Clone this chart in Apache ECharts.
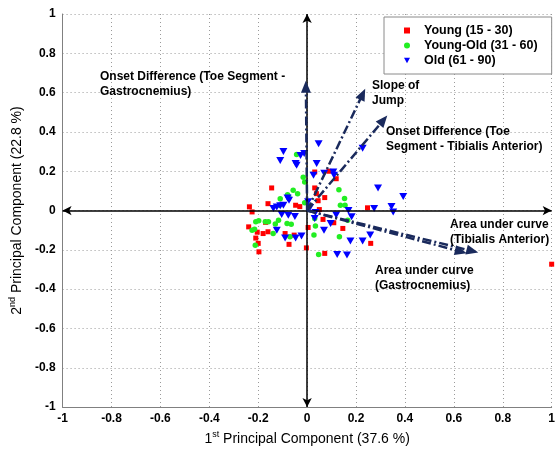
<!DOCTYPE html>
<html><head><meta charset="utf-8">
<script src="https://cdn.jsdelivr.net/npm/echarts@6/dist/echarts.min.js"></script>
<style>html,body{margin:0;padding:0;background:#fff}#c{width:558px;height:451px}</style>
</head><body><div id="c"></div>
<script>
const young = [[0.031,0.196],[0.089,0.20],[0.119,0.162],[0.031,0.115],[0.038,0.086],[0.072,0.066],[0.045,0.05],[0.05,0.005],[-0.145,0.115],[-0.16,0.035],[-0.236,0.019],[-0.225,-0.007],[-0.047,0.027],[-0.03,0.02],[0.247,0.014],[0.065,-0.045],[0.109,-0.062],[0.146,-0.091],[0.26,-0.167],[0.072,-0.218],[-0.003,-0.19],[0.004,-0.086],[-0.239,-0.083],[-0.204,-0.11],[-0.18,-0.117],[-0.16,-0.108],[-0.21,-0.14],[-0.2,-0.167],[-0.197,-0.21],[-0.09,-0.117],[-0.074,-0.172],[-0.053,-0.125],[-0.17,-0.06],[1.0,-0.273]];
const youngOld = [[-0.043,0.285],[-0.016,0.17],[-0.01,0.145],[-0.057,0.103],[-0.039,0.086],[-0.08,0.08],[-0.075,0.07],[-0.11,0.06],[-0.113,0.027],[-0.01,0.04],[0.13,0.106],[0.153,0.061],[0.136,0.027],[0.155,0.027],[0.166,-0.049],[0.031,-0.04],[0.034,-0.078],[0.028,-0.125],[0.132,-0.133],[0.047,-0.223],[-0.21,-0.057],[-0.198,-0.052],[-0.225,-0.1],[-0.215,-0.095],[-0.171,-0.057],[-0.158,-0.057],[-0.13,-0.069],[-0.117,-0.049],[-0.082,-0.066],[-0.065,-0.07],[-0.139,-0.117],[-0.07,-0.133],[-0.212,-0.176]];
const old = [[-0.097,0.30],[-0.11,0.255],[-0.047,0.24],[-0.043,0.23],[-0.027,0.28],[-0.012,0.29],[0.047,0.34],[0.039,0.24],[0.026,0.18],[0.07,0.19],[0.107,0.196],[0.11,0.18],[0.227,0.317],[0.29,0.115],[0.393,0.072],[0.274,0.01],[0.345,0.02],[0.352,-0.007],[0.169,0.0],[0.182,-0.032],[0.119,-0.023],[0.031,-0.04],[0.096,-0.066],[0.069,-0.1],[0.177,-0.155],[0.227,-0.155],[0.258,-0.125],[0.123,-0.223],[0.163,-0.226],[0.034,-0.01],[0.004,0.045],[0.012,0.015],[-0.08,0.064],[-0.074,0.052],[-0.097,0.027],[-0.138,0.01],[-0.124,0.018],[-0.11,0.025],[-0.104,-0.02],[-0.077,-0.024],[-0.05,-0.03],[-0.124,-0.1],[-0.09,-0.14],[-0.047,-0.14],[-0.023,-0.13]];
const vectorNames = ['Onset Difference (Toe Segment - Gastrocnemius)','Slope of Jump','Onset Difference (Toe Segment - Tibialis Anterior)','Area under curve (Tibialis Anterior)','Area under curve (Gastrocnemius)'];
const vectorX = [-0.005, 0.227, 0.312, 0.676, 0.629];
const vectorY = [0.63, 0.592, 0.46, -0.206, -0.209];
const seriesNames = ['Young (15 - 30)','Young-Old (31 - 60)','Old (61 - 90)'];
const xTitle = '{n|1}{s|st}{n| Principal Component (37.6 %)}';
const yTitle = '{n|2}{s|nd}{n| Principal Component (22.8 %)}';

const FONT = 'Liberation Sans, Arial, sans-serif';
const VEC = '#1a2a5c';
const chart = echarts.init(document.getElementById('c'), null, {renderer:'canvas'});
const titleRich = {n:{fontSize:14, fontFamily:FONT, color:'#000', lineHeight:16, verticalAlign:'bottom'}, s:{fontSize:9, fontFamily:FONT, color:'#000', lineHeight:16, verticalAlign:'top'}};
const TRI = 'path://M0,0 L10,0 L5,9 Z';
const vecLines = vectorX.map((x,i)=>[{coord:[0,0], name:vectorNames[i]},{coord:[x, vectorY[i]]}]);
const labelStyle = {fontFamily:FONT, fontWeight:'bold', fontSize:12, fill:'#000', lineHeight:15};
function lbl(x,y,t){return {type:'text', left:x, top:y, z:100, style:Object.assign({text:t}, labelStyle)};}
chart.setOption({
  animation:false,
  grid:{left:62, right:2, top:14, bottom:42},
  xAxis:{type:'value', min:-1, max:1, interval:0.2,
    axisLine:{onZero:false, lineStyle:{color:'#808080', width:1}},
    axisTick:{show:false},
    axisLabel:{color:'#000', fontWeight:'bold', fontSize:12, fontFamily:FONT, margin:6, formatter:v=>String(Math.round(v*10)/10)},
    splitLine:{show:true, lineStyle:{color:'#9a9a9a', type:[1,3], width:1}},
    name:xTitle, nameLocation:'middle', nameGap:22, nameTextStyle:{rich:titleRich}},
  yAxis:{type:'value', min:-1, max:1, interval:0.2,
    axisLine:{onZero:false, lineStyle:{color:'#808080', width:1}},
    axisTick:{show:false},
    axisLabel:{color:'#000', fontWeight:'bold', fontSize:12, fontFamily:FONT, margin:7, formatter:v=>String(Math.round(v*10)/10)},
    splitLine:{show:true, lineStyle:{color:'#9a9a9a', type:[1,3], width:1}},
    name:yTitle, nameLocation:'middle', nameGap:31, nameRotate:90, nameTextStyle:{rich:titleRich}},
  legend:{data:[{name:seriesNames[0], icon:'rect'},{name:seriesNames[1], icon:'circle'},{name:seriesNames[2], icon:TRI}],
    orient:'vertical', left:384, top:17, width:171,
    padding:[7,14,7,20], itemGap:2, itemWidth:6, itemHeight:6,
    backgroundColor:'#fff', borderColor:'#8a8a8a', borderWidth:1,
    textStyle:{fontFamily:FONT, fontWeight:'bold', fontSize:12.5, color:'#000', padding:[0,0,0,9]}},
  series:[
    {type:'line', data:[], silent:true, z:3,
      markLine:{silent:true, symbol:['arrow','arrow'], symbolSize:[7,9], label:{show:false},
        lineStyle:{color:'#000', width:1.5, type:'solid'},
        data:[[{coord:[-1,0]},{coord:[1,0]}],[{coord:[0,-1]},{coord:[0,1]}]]}},
    {name:seriesNames[0], type:'scatter', data:young, symbol:'rect', symbolSize:5, itemStyle:{color:'#ff0000', opacity:1}, z:4},
    {name:seriesNames[1], type:'scatter', data:youngOld, symbol:'circle', symbolSize:5.5, itemStyle:{color:'#22ee22', opacity:1}, z:4},
    {name:seriesNames[2], type:'scatter', data:old, symbol:'triangle', symbolRotate:180, symbolSize:[8,7], itemStyle:{color:'#0000ff', opacity:1}, z:4},
    {type:'line', data:[], silent:true, z:5,
      markLine:{silent:true, symbol:['none','none'], label:{show:false},
        lineStyle:{color:VEC, width:2.5, type:[9,3,2,3], opacity:1},
        data:vecLines}},
    {id:'heads', type:'scatter', silent:true, z:6, data:[], symbol:'triangle', symbolSize:[10,12], itemStyle:{color:VEC, opacity:1}}
  ],
  graphic:[
    lbl(100,69,'Onset Difference (Toe Segment -\nGastrocnemius)'),
    lbl(372,78,'Slope of\nJump'),
    lbl(386,124,'Onset Difference (Toe\nSegment - Tibialis Anterior)'),
    lbl(450,217,'Area under curve\n(Tibialis Anterior)'),
    lbl(375,263,'Area under curve\n(Gastrocnemius)')
  ]
});
// arrowheads: rotate each along its vector's direction on screen
const o = chart.convertToPixel({gridIndex:0}, [0,0]);
const headData = vectorX.map((x,i)=>{
  const p = chart.convertToPixel({gridIndex:0}, [x, vectorY[i]]);
  const ang = Math.atan2(-(p[1]-o[1]), p[0]-o[0]) * 180 / Math.PI;
  return {value:[x, vectorY[i]], symbolRotate: ang - 90};
});
chart.setOption({series:[{id:'heads', data:headData}]});
</script></body></html>
